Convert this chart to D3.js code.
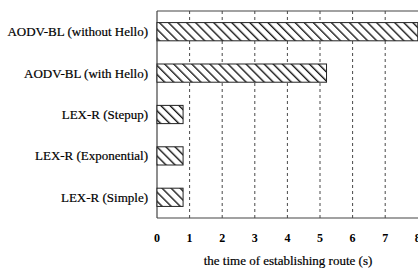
<!DOCTYPE html>
<html>
<head>
<meta charset="utf-8">
<script src="https://cdn.jsdelivr.net/npm/d3@7"></script>
<style>
  body { margin: 0; background: #fff; }
  svg { display: block; font-family: "Liberation Serif", "DejaVu Serif", serif; }
</style>
</head>
<body>
<svg id="chart"></svg>
<script>
const categories = [
  "AODV-BL (without Hello)",
  "AODV-BL (with Hello)",
  "LEX-R (Stepup)",
  "LEX-R (Exponential)",
  "LEX-R (Simple)"
];
const times = [8.0, 5.2, 0.8, 0.8, 0.8];
const xTicks = [0, 1, 2, 3, 4, 5, 6, 7, 8];

const width = 418, height = 268;
const margin = { top: 11, right: 0, bottom: 50, left: 157 };

const svg = d3.select("#chart")
  .attr("width", width)
  .attr("height", height);

// diagonal hatch
const defs = svg.append("defs");
const pat = defs.append("pattern")
  .attr("id", "hatch")
  .attr("patternUnits", "userSpaceOnUse")
  .attr("width", 6.4)
  .attr("height", 6.4)
  .attr("patternTransform", "rotate(-45)");
pat.append("rect").attr("width", 6.4).attr("height", 6.4).attr("fill", "#fff");
pat.append("line")
  .attr("x1", 0).attr("y1", 0).attr("x2", 0).attr("y2", 6.4)
  .attr("stroke", "#1a1a1a").attr("stroke-width", 2.8);

const x = d3.scaleLinear()
  .domain([0, 8])
  .range([margin.left, margin.left + 32.6 * 8]);

const y = d3.scaleBand()
  .domain(categories)
  .range([margin.top, height - margin.bottom])
  .paddingInner(0.56)
  .paddingOuter(0.28);

// grid
svg.append("g")
  .selectAll("line")
  .data(xTicks.filter(d => d > 0 && d < 8))
  .enter()
  .append("line")
  .attr("x1", d => x(d)).attr("x2", d => x(d))
  .attr("y1", margin.top).attr("y2", height - margin.bottom)
  .attr("stroke", "#333")
  .attr("stroke-width", 0.9)
  .attr("stroke-dasharray", "3,3");

// frame
const frame = svg.append("g").attr("stroke", "#444").attr("stroke-width", 1.2);
frame.append("line")
  .attr("x1", margin.left).attr("x2", margin.left)
  .attr("y1", margin.top).attr("y2", height - margin.bottom);
frame.append("line")
  .attr("x1", margin.left).attr("x2", width)
  .attr("y1", margin.top).attr("y2", margin.top);
frame.append("line")
  .attr("x1", margin.left).attr("x2", width)
  .attr("y1", height - margin.bottom).attr("y2", height - margin.bottom);

// bars
svg.append("g")
  .selectAll("rect")
  .data(categories)
  .enter()
  .append("rect")
  .attr("x", x(0))
  .attr("y", d => y(d))
  .attr("width", (d, i) => x(times[i]) - x(0))
  .attr("height", y.bandwidth())
  .attr("fill", "url(#hatch)")
  .attr("stroke", "#222")
  .attr("stroke-width", 1);

// category labels
svg.append("g")
  .selectAll("text")
  .data(categories)
  .enter()
  .append("text")
  .attr("x", margin.left - 9)
  .attr("y", d => y(d) + y.bandwidth() / 2)
  .attr("dy", "0.35em")
  .attr("text-anchor", "end")
  .attr("font-size", 13)
  .attr("fill", "#000")
  .attr("stroke", "#000")
  .attr("stroke-width", 0.2)
  .text(d => d);

// tick labels
svg.append("g")
  .selectAll("text")
  .data(xTicks)
  .enter()
  .append("text")
  .attr("x", d => x(d))
  .attr("y", 242)
  .attr("text-anchor", "middle")
  .attr("font-size", 12)
  .attr("font-weight", "bold")
  .attr("fill", "#000")
  .text(d => d);

// axis title
svg.append("text")
  .attr("x", 288)
  .attr("y", 265)
  .attr("text-anchor", "middle")
  .attr("font-size", 13)
  .attr("fill", "#000")
  .attr("stroke", "#000")
  .attr("stroke-width", 0.2)
  .text("the time of establishing route (s)");
</script>
</body>
</html>
